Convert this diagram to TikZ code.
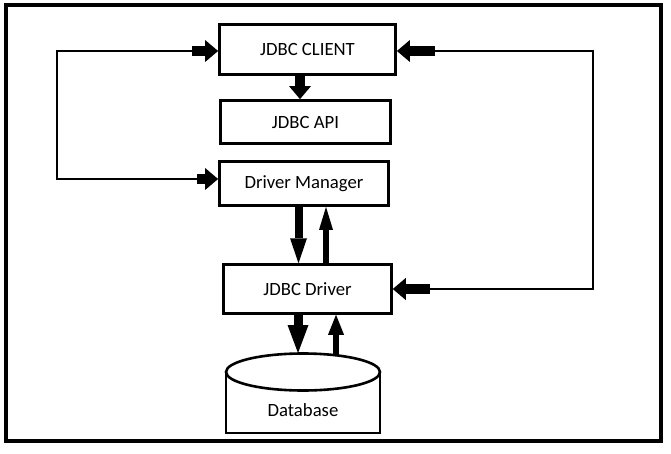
\documentclass[tikz,border=0pt]{standalone}
\usepackage{fontspec}
\setmainfont{Carlito}
\usetikzlibrary{arrows.meta}
\begin{document}
\begin{tikzpicture}[x=1pt,y=-1pt,font=\fontsize{18.7}{22}\selectfont,
  box/.style={draw,line width=2.8pt,inner sep=0pt},
  thinline/.style={line width=1.1pt},
  dbline/.style={line width=2.6pt},
  blockarrow/.style={line width=10pt,-{Triangle[length=13pt,width=22pt,line width=0pt]}},
  downarrow/.style={line width=8pt,-{Triangle[length=25pt,width=17pt,line width=0pt]}},
  uparrow/.style={line width=6pt,-{Triangle[length=23pt,width=14pt,line width=0pt]}}]
  \useasboundingbox (0,0) rectangle (671,454);
  % Drawing frame
  \draw [line width=4.5pt] (6,5) rectangle (661,441);%

  % Drawing boxes
  \node [box,minimum width=176,minimum height=50] (client) at (307.5,49.5) {JDBC CLIENT};%
  \node [box,minimum width=170,minimum height=43] (api) at (305.5,122) {JDBC API};%
  \node [box,minimum width=169,minimum height=44] (mgr) at (304,183.5) {Driver Manager};%
  \node [box,line width=2.5pt,minimum width=168,minimum height=49] (drv) at (307.5,289) {JDBC Driver};%

  % Drawing database
  \draw [dbline] (226,372) -- (226,433) -- (380,433) -- (380,372);%
  \draw [dbline] (303,372) ellipse [x radius=77,y radius=18.5];%
  \node (db) at (303,410) {Database};%

  % Arrow points
  \coordinate (cadn) at (300,99);
  \coordinate (mddn) at (298.5,262);
  \coordinate (mdup) at (326,207);
  \coordinate (dbdn) at (298,353);
  \coordinate (dbup) at (336,355);

  % Drawing arrows down the stack
  \draw [blockarrow] (client.south -| cadn) -- (api.north -| cadn);%
  \draw [downarrow] (mgr.south -| mddn) -- (drv.north -| mddn);%
  \draw [uparrow] (drv.north -| mdup) -- (mgr.south -| mdup);%
  \draw [downarrow,line width=9pt,-{Triangle[length=28pt,width=21pt,line width=0pt]}] (drv.south -| dbdn) -- (dbdn);%
  \draw [uparrow,-{Triangle[length=20pt,width=16pt,line width=0pt]}] (dbup) -- (drv.south -| dbup);%

  % Drawing left loop
  \coordinate (lt) at (57,51);
  \coordinate (lt1) at (192,51);
  \coordinate (lb) at (57,179);
  \coordinate (lb1) at (197,179);
  \draw [thinline] (lt1) -- (lt) -- (lb) -- (lb1);%
  \draw [blockarrow] (lt1) -- (client.west |- lt1);%
  \draw [blockarrow] (lb1) -- (mgr.west |- lb1);%

  % Drawing right loop
  \coordinate (rt) at (593,51);
  \coordinate (rt1) at (435,51);
  \coordinate (rb) at (593,289);
  \coordinate (rb1) at (430,289);
  \draw [thinline] (rt1) -- (rt) -- (rb) -- (rb1);%
  \draw [blockarrow] (rt1) -- (client.east |- rt1);%
  \draw [blockarrow] (rb1) -- (drv.east |- rb1);%
\end{tikzpicture}
\end{document}
